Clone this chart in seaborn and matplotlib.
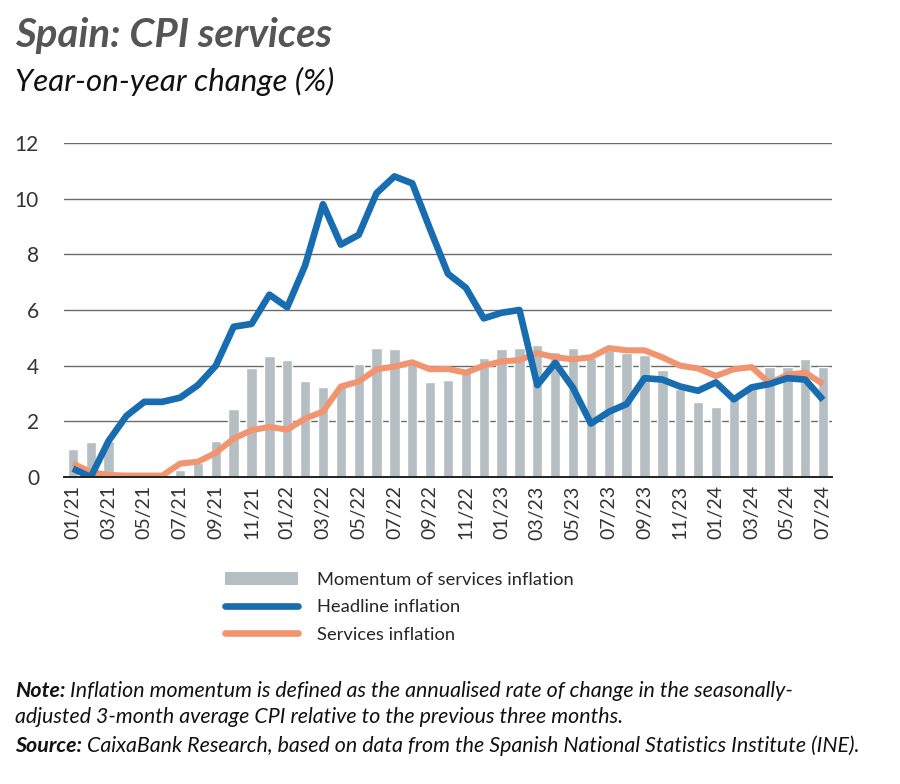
import numpy as np
import pandas as pd
import matplotlib
matplotlib.use("Agg")
import matplotlib.pyplot as plt
from matplotlib.patches import Patch
from matplotlib.lines import Line2D
import seaborn as sns

months = ["01/21", "02/21", "03/21", "04/21", "05/21", "06/21", "07/21", "08/21", "09/21", "10/21", "11/21", "12/21",
          "01/22", "02/22", "03/22", "04/22", "05/22", "06/22", "07/22", "08/22", "09/22", "10/22", "11/22", "12/22",
          "01/23", "02/23", "03/23", "04/23", "05/23", "06/23", "07/23", "08/23", "09/23", "10/23", "11/23", "12/23",
          "01/24", "02/24", "03/24", "04/24", "05/24", "06/24", "07/24"]

momentum = [1.0, 1.25, 1.3, 0.0, 0.05, 0.0, 0.25, 0.5, 1.3, 2.45,
            3.9, 4.35, 4.22, 3.45, 3.25, 3.3, 4.05, 4.65, 4.6, 4.1,
            3.4, 3.5, 3.85, 4.28, 4.6, 4.65, 4.75, 4.5, 4.63, 4.28,
            4.55, 4.45, 4.38, 3.84, 3.15, 2.7, 2.53, 2.85, 3.25, 3.95,
            3.95, 4.25, 3.95]

headline = [0.3, 0.0, 1.3, 2.2, 2.7, 2.7, 2.85, 3.3, 4.0, 5.4,
            5.5, 6.55, 6.1, 7.6, 9.8, 8.35, 8.7, 10.2, 10.8, 10.55,
            8.9, 7.3, 6.8, 5.7, 5.9, 6.0, 3.3, 4.1, 3.2, 1.92,
            2.34, 2.62, 3.55, 3.5, 3.25, 3.1, 3.4, 2.79, 3.22, 3.34,
            3.55, 3.5, 2.77]

services = [0.48, 0.18, 0.07, 0.05, 0.05, 0.05, 0.48, 0.55, 0.87, 1.38,
            1.68, 1.8, 1.7, 2.1, 2.35, 3.25, 3.43, 3.87, 3.97, 4.12,
            3.87, 3.88, 3.75, 4.0, 4.15, 4.2, 4.45, 4.3, 4.23, 4.3,
            4.63, 4.55, 4.55, 4.3, 4.0, 3.9, 3.63, 3.87, 3.95, 3.37,
            3.67, 3.75, 3.34]

yticks = [0, 2, 4, 6, 8, 10, 12]

df = pd.DataFrame({"month": months, "momentum": momentum,
                   "headline": headline, "services": services})
df["pos"] = np.arange(len(df))

bar_col = "#b4bec3"
blue = "#176db0"
orange = "#f19570"
text_col = "#333333"

sns.set_style("white")
plt.rcParams["font.family"] = ["Lato", "DejaVu Sans"]

fig = plt.figure(figsize=(9, 7.84), dpi=100)
ax = fig.add_axes([64 / 900, 1 - 477 / 784, 768 / 900, 334 / 784])

for v in yticks[1:]:
    ax.axhline(v, color="#6b6b6b", lw=1.0, zorder=0)

sns.barplot(data=df, x="month", y="momentum", color=bar_col, width=0.58,
            saturation=1, ax=ax, zorder=1)
sns.lineplot(data=df, x="pos", y="services", color=orange, lw=4.4, ax=ax,
             zorder=3, solid_capstyle="butt")
sns.lineplot(data=df, x="pos", y="headline", color=blue, lw=4.8, ax=ax,
             zorder=4, solid_capstyle="butt")

ax.set_xlim(-0.5, len(months) - 0.5)
ax.set_ylim(0, 12)
ax.set_yticks(yticks)
ax.set_yticklabels([str(v) for v in yticks], fontsize=15, color=text_col)
ax.set_xticks(np.arange(0, len(months), 2))
ax.set_xticklabels(months[::2], rotation=90, fontsize=14, color=text_col)
ax.set_xticks(np.arange(1.5, len(months) - 1, 2), minor=True)
ax.tick_params(axis="x", which="major", length=0, pad=6)
ax.tick_params(axis="x", which="minor", direction="in", length=5, width=1.2, color="#222222")
ax.tick_params(axis="y", length=0, pad=18)
ax.set_xlabel("")
ax.set_ylabel("")
for s in ["top", "right", "left"]:
    ax.spines[s].set_visible(False)
ax.spines["bottom"].set_color("#222222")
ax.spines["bottom"].set_linewidth(1.4)
ax.spines["bottom"].set_zorder(5)

fig.text(15 / 900, 1 - 47 / 784, "Spain: CPI services", fontsize=29, fontweight="bold",
         fontstyle="italic", color="#555555", va="baseline")
fig.text(15 / 900, 1 - 91 / 784, "Year-on-year change (%)", fontsize=22.5,
         fontstyle="italic", color="#111111", va="baseline")

handles = [Patch(facecolor=bar_col, edgecolor="none"),
           Line2D([0], [0], color=blue, lw=4.8, solid_capstyle="round"),
           Line2D([0], [0], color=orange, lw=4.8, solid_capstyle="round")]
labels = ["Momentum of services inflation", "Headline inflation", "Services inflation"]
fig.legend(handles, labels, loc="upper left", bbox_to_anchor=(225 / 900, 1 - 572 / 784),
           frameon=False, fontsize=13.2, handlelength=4.0, handletextpad=1.0,
           labelspacing=0.62, borderaxespad=0, borderpad=0)

renderer = fig.canvas.get_renderer()
notes = [("Note:", " Inflation momentum is defined as the annualised rate of change in the seasonally-", 697),
         ("", "adjusted 3-month average CPI relative to the previous three months.", 723),
         ("Source:", " CaixaBank Research, based on data from the Spanish National Statistics Institute (INE).", 752)]
for bold, rest, ypix in notes:
    x0 = 15 / 900
    if bold:
        t = fig.text(x0, 1 - ypix / 784, bold, fontsize=15.4, fontweight="bold",
                     fontstyle="italic", color="#111111", va="baseline")
        bb = t.get_window_extent(renderer)
        x0 = bb.x1 / fig.bbox.width
    fig.text(x0, 1 - ypix / 784, rest, fontsize=15.4, fontstyle="italic",
             color="#111111", va="baseline")

fig.savefig("out.png", dpi=100)
